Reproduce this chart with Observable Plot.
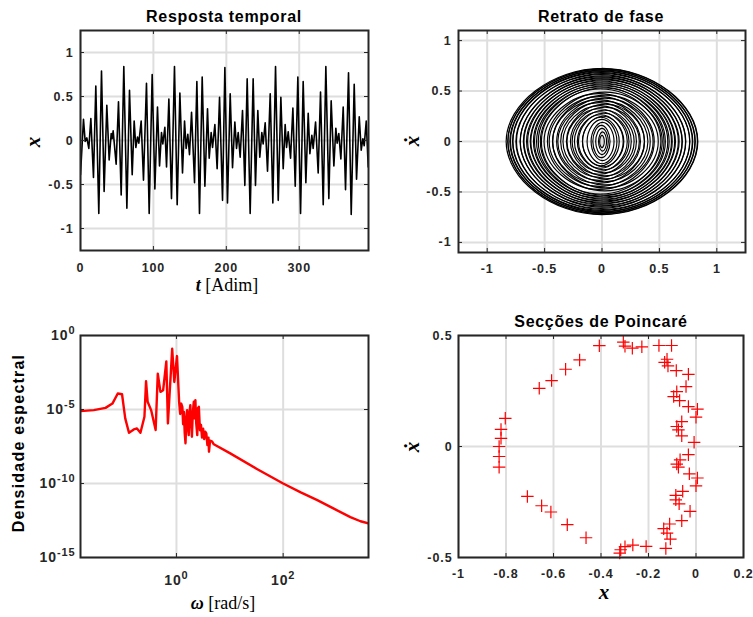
<!DOCTYPE html>
<html><head><meta charset="utf-8">
<script src="https://cdn.jsdelivr.net/npm/d3@7"></script>
<script src="https://cdn.jsdelivr.net/npm/@observablehq/plot@0.6"></script>
<style>
body{margin:0;background:#fff;}
#fig{position:relative;width:753px;height:617px;overflow:hidden;background:#fff;font-family:"Liberation Sans",Arial,sans-serif;}
#fig svg{position:absolute;left:0;top:0;}
.lbl{position:absolute;white-space:nowrap;color:#000;line-height:1;}
.title{font-weight:bold;font-size:16px;letter-spacing:0.7px;}
.ylab{font-weight:bold;font-size:16px;letter-spacing:1.2px;}
.math{font-family:"Liberation Serif","DejaVu Serif",serif;font-size:18px;}
.big{font-size:21px;}
.mi{font-weight:bold;font-style:italic;}
</style></head><body><div id="fig"></div>
<script>
// ---------- data: time response ----------
const tt = [0,4.1,6.4,8.7,11.4,14.2,17.8,21.0,25.1,28.8,32.4,36.1,39.3,42.1,43.4,44.8,48.9,52.1,55.8,59.4,63.6,67.2,70.9,73.6,75.9,78.2,80.0,83.2,86.4,90.5,94.2,98.3,102.0,105.6,108.4,111.1,112.9,115.7,118.0,121.2,124.8,128.9,132.6,
136.3,139.9,142.7,144.9,147.2,149.5,152.3,156.4,159.6,163.2,166.9,170.6,174.2,176.5,179.2,181.1,184.3,187.4,190.7,194.8,198.0,201.6,205.3,208.5,211.7,214.0,216.3,219.0,222.2,225.4,228.6,232.7,236.8,240.0,243.2,245.9,248.7,250.5,253.3,256.5,260.2,263.8,
267.5,271.2,274.8,278.0,280.7,282.6,284.9,288.1,291.3,294.5,298.1,301.8,305.4,309.1,312.3,314.6,317.3,319.1,322.4,326.0,329.2,332.9,336.5,340.6,343.8,347.5,350.2,352.0,354.3,357.1,360.3,363.5,367.6,371.3,375.4,378.6,382.3,385.0,387.3,389.1,391.9,394.6];
const xt = [-0.39,0.24,-0.01,0.03,-0.09,0.25,-0.42,0.62,-0.83,0.79,-0.58,0.40,-0.22,0.08,0.02,0.11,-0.27,0.44,-0.62,0.84,-0.77,0.57,-0.39,0.22,-0.08,0.04,-0.03,0.22,-0.45,0.65,-0.83,0.75,-0.55,0.38,-0.29,0.09,-0.04,0.15,-0.30,0.47,-0.66,0.84,-0.73,
0.54,-0.37,0.22,-0.09,0.07,-0.16,0.32,-0.48,0.67,-0.83,0.72,-0.52,0.36,-0.20,0.09,-0.08,0.18,-0.32,0.49,-0.68,0.83,-0.71,0.53,-0.31,0.21,-0.09,0.09,-0.19,0.34,-0.51,0.70,-0.83,0.70,-0.51,0.34,-0.19,0.09,-0.04,0.20,-0.35,0.53,-0.71,
0.84,-0.68,0.49,-0.32,0.18,-0.08,0.10,-0.20,0.37,-0.52,0.72,-0.83,0.67,-0.48,0.31,-0.15,0.06,-0.09,0.21,-0.37,0.55,-0.73,0.84,-0.66,0.45,-0.29,0.14,-0.03,0.08,-0.21,0.38,-0.56,0.77,-0.84,0.64,-0.44,0.27,-0.11,0.02,-0.06,0.22,-0.30];

// ---------- data: phase portrait loops (centre, half-width in x, half-height in xdot) ----------
const loopCx = [0,0.006,-0.006,0.008,-0.008,0.006,-0.006,0.01,-0.01,0.008,-0.008,0.01,-0.01,0.012,-0.012,0.01,-0.01,0.012,-0.012,0.015,-0.015,0.012,-0.012,
  0.025,-0.025,0.03,-0.02,0.025,-0.03,0.02,-0.025,0.03,-0.02,0.025,-0.025,0.02,-0.02,0.015,-0.015,0.01,-0.01,
  0,0.005,-0.005,0,0.005,0];
const loopAx = [0.835,0.825,0.815,0.805,0.795,0.785,0.77,0.755,0.74,0.72,0.705,0.69,0.675,0.66,0.645,0.63,0.615,0.60,0.585,0.57,0.555,0.54,0.525,
  0.50,0.48,0.46,0.44,0.42,0.40,0.38,0.36,0.34,0.32,0.30,0.28,0.26,0.24,0.22,0.20,0.18,0.16,
  0.13,0.10,0.075,0.055,0.035,0.02];
const loopAv = [0.725,0.72,0.714,0.707,0.70,0.693,0.683,0.673,0.663,0.65,0.64,0.63,0.62,0.61,0.60,0.59,0.58,0.57,0.56,0.55,0.54,0.53,0.52,
  0.49,0.475,0.46,0.445,0.43,0.415,0.40,0.385,0.37,0.355,0.34,0.325,0.31,0.295,0.28,0.265,0.25,0.24,
  0.22,0.19,0.16,0.13,0.095,0.06];

// ---------- data: spectral density (log10 values) ----------
const specLogW = [-1.80,-1.55,-1.33,-1.20,-1.10,-1.02,-0.96,-0.89,-0.80,-0.74,-0.675,-0.60,-0.57,-0.54,-0.475,-0.39,-0.35,-0.30,-0.25,-0.19,-0.16,-0.08,-0.04,0.01,0.05,0.07,0.09,0.11,0.125,0.14,0.155,0.17,0.185,0.20,0.215,0.23,0.245,0.26,0.275,0.29,0.305,0.325,0.34,0.355,0.37,0.39,0.405,0.42,0.44,0.46,0.48,0.50,0.52,0.54,0.56,0.58,0.60,0.61,0.63,0.67,0.70,1.0,1.5,2.0,2.33,2.64,2.95,3.26,3.45,3.60];
const specLogS = [-5.11,-5.04,-4.89,-4.60,-3.92,-3.97,-5.60,-6.57,-6.35,-6.28,-6.57,-5.49,-3.09,-4.48,-5.04,-6.39,-2.58,-3.81,-3.70,-1.75,-5.94,-0.90,-3.14,-1.39,-4.48,-5.3,-4.6,-4.82,-6.0,-5.16,-6.6,-7.29,-5.6,-5.04,-6.2,-6.73,-5.2,-4.71,-5.9,-6.84,-5.3,-4.48,-5.6,-4.37,-5.9,-6.73,-4.9,-4.82,-6.4,-6.05,-6.9,-6.3,-7.0,-6.5,-6.61,-7.4,-6.9,-7.85,-7.1,-7.17,-7.35,-7.95,-9.0,-10.0,-10.6,-11.12,-11.7,-12.27,-12.55,-12.7];

// ---------- data: Poincaré sections ----------
const pcX = [-0.407,-0.490,-0.549,-0.608,-0.660,-0.803,-0.821,-0.821,-0.829,-0.829,-0.829,-0.710,-0.650,-0.611,-0.542,-0.463,-0.321,-0.317,-0.299,-0.266,-0.210,-0.127,-0.306,-0.299,-0.268,-0.228,-0.156,-0.103,
-0.122,-0.132,-0.118,-0.083,-0.032,-0.042,-0.081,-0.094,-0.069,-0.032,0.006,0.000,-0.060,-0.081,-0.074,-0.060,-0.008,-0.032,-0.067,-0.081,-0.074,-0.028,0.006,0.000,-0.056,-0.085,-0.085,-0.071,-0.025,-0.060,-0.111,-0.136,-0.122,-0.108];
const pcV = [0.454,0.390,0.348,0.297,0.262,0.127,0.077,0.037,0.000,-0.045,-0.093,-0.225,-0.267,-0.295,-0.352,-0.411,-0.480,-0.465,-0.451,-0.444,-0.450,-0.459,0.470,0.452,0.443,0.449,0.455,0.455,
0.393,0.379,0.363,0.342,0.325,0.270,0.247,0.225,0.207,0.180,0.168,0.132,0.112,0.090,0.075,0.048,0.019,-0.037,-0.060,-0.079,-0.093,-0.123,-0.142,-0.177,-0.202,-0.220,-0.240,-0.258,-0.292,-0.334,-0.349,-0.370,-0.390,-0.417];

// ---------- ticks ----------
const ticksT = [0,100,200,300];
const ticksUnit = [-1,-0.5,0,0.5,1];
const ticksW = [1,100];
const ticksS = [1e-15,1e-10,1e-5,1];
const ticksPX = [-1,-0.8,-0.6,-0.4,-0.2,0,0.2];
const ticksPV = [-0.5,0,0.5];

// ---------- tables ----------
const series = tt.map((t,i)=>({t, x: xt[i]}));
const loops = [];
loopAx.forEach((a,i)=>{
  const c = loopCx[i], v = loopAv[i];
  loops.push({id:i,x:c+a,y:0},{id:i,x:c,y:v},{id:i,x:c-a,y:0},{id:i,x:c,y:-v});
});
const spec = specLogW.map((w,i)=>({w: 10**w, s: 10**specLogS[i]}));
const pc = pcX.map((x,i)=>({x, v: pcV[i]}));

const W = 753, H = 617;
const GRID = "#dedede", AX = "#262626";
const fig = document.getElementById("fig");
const style = {background:"transparent", fontFamily:'"Liberation Sans", Arial, sans-serif', fontSize:"12.5px", fontWeight:"bold", color:AX, letterSpacing:"0.9px", overflow:"visible"};
const fmt = d => String(d);
const pow = d => "10^" + Math.round(Math.log10(d));

function panel({box, x, y, xt, yt, xg, yg, xfmt = fmt, yfmt = fmt, xpad, ypad, marks}) {
  const [l, t, r, b] = box;
  const fw = r - l, fh = b - t, tl = 4;
  const svg = Plot.plot({
    width: W, height: H, marginLeft: l, marginTop: t, marginRight: W - r, marginBottom: H - b,
    style, x, y,
    marks: [
      Plot.ruleX(xg, {stroke: GRID, strokeWidth: 2}),
      Plot.ruleY(yg, {stroke: GRID, strokeWidth: 2}),
      ...marks,
      Plot.tickX(xt, {insetTop: fh - tl, stroke: AX, strokeWidth: 1}),
      Plot.tickX(xt, {insetBottom: fh - tl, stroke: AX, strokeWidth: 1}),
      Plot.tickY(yt, {insetRight: fw - tl, stroke: AX, strokeWidth: 1}),
      Plot.tickY(yt, {insetLeft: fw - tl, stroke: AX, strokeWidth: 1}),
      Plot.frame({stroke: AX, strokeWidth: 2}),
      Plot.axisX({ticks: xt, tickSize: 0, tickPadding: xpad, tickFormat: xfmt, label: null}),
      Plot.axisY({ticks: yt, tickSize: 0, tickPadding: ypad, tickFormat: yfmt, label: null})
    ]
  });
  svg.querySelectorAll("text").forEach(el => {
    const s = el.textContent;
    if (s.startsWith("10^")) {
      el.textContent = "";
      el.setAttribute("font-size", "14px");
      const a = document.createElementNS("http://www.w3.org/2000/svg", "tspan");
      a.textContent = "10";
      const e = document.createElementNS("http://www.w3.org/2000/svg", "tspan");
      e.textContent = s.slice(3);
      e.setAttribute("dy", "-0.55em");
      e.setAttribute("font-size", "11px");
      el.appendChild(a); el.appendChild(e);
    }
  });
  fig.appendChild(svg);
}

// Panel 1: time response
panel({
  box: [80, 30, 368, 250],
  x: {domain: [0, 395]}, y: {domain: [-1.25, 1.25]},
  xt: ticksT, yt: ticksUnit, xg: ticksT, yg: ticksUnit,
  xpad: 13, ypad: 7,
  marks: [Plot.line(series, {x: "t", y: "x", stroke: "#000", strokeWidth: 1.6, clip: true})]
});

// Panel 2: phase portrait
panel({
  box: [458, 30, 745, 252],
  x: {domain: [-1.25, 1.25]}, y: {domain: [-1.1, 1.1]},
  xt: ticksUnit, yt: ticksUnit, xg: ticksUnit, yg: ticksUnit,
  xpad: 12, ypad: 7,
  marks: [Plot.line(loops, {x: "x", y: "y", z: "id", curve: "cardinal-closed", tension: -0.55, stroke: "#000", strokeWidth: 1.15, clip: true})]
});

// Panel 3: spectral density
panel({
  box: [80, 335, 368, 557],
  x: {type: "log", domain: [0.0159, 3980]}, y: {type: "log", domain: [1e-15, 1]},
  xt: ticksW, yt: ticksS, xg: ticksW, yg: ticksS,
  xfmt: pow, yfmt: pow,
  xpad: 18, ypad: 5,
  marks: [Plot.line(spec, {x: "w", y: "s", stroke: "#ff0000", strokeWidth: 2.4, clip: true})]
});

// Panel 4: Poincaré sections
panel({
  box: [458, 335, 743, 557],
  x: {domain: [-1, 0.2]}, y: {domain: [-0.5, 0.5]},
  xt: ticksPX, yt: ticksPV, xg: ticksPX, yg: ticksPV,
  xpad: 12, ypad: 6,
  marks: [Plot.dot(pc, {x: "x", y: "v", symbol: "plus", r: 4.1, stroke: "#ff0000", strokeWidth: 1.2})]
});

// ---------- text labels ----------
function lab(html, x, y, cls, rot) {
  const d = document.createElement("div");
  d.className = "lbl " + cls;
  d.innerHTML = html;
  d.style.left = x + "px";
  d.style.top = y + "px";
  d.style.transform = "translate(-50%,-50%)" + (rot ? " rotate(-90deg)" : "");
  fig.appendChild(d);
}
lab("Resposta temporal", 224, 17, "title");
lab("Retrato de fase", 601, 17, "title");
lab("Secções de Poincaré", 601, 322, "title");
lab('<span class="mi">x</span>', 33, 142, "math big", true);
lab('<span class="mi">ẋ</span>', 412, 141, "math big", true);
lab('<span class="mi">ẋ</span>', 412, 447, "math big", true);
lab("Densidade espectral", 19, 443, "ylab", true);
lab('<span class="mi">t</span> [Adim]', 227, 285, "math");
lab('<span class="mi">ω</span> [rad/s]', 223, 603, "math");
lab('<span class="mi">x</span>', 604, 592, "math big");
</script>
</body></html>
